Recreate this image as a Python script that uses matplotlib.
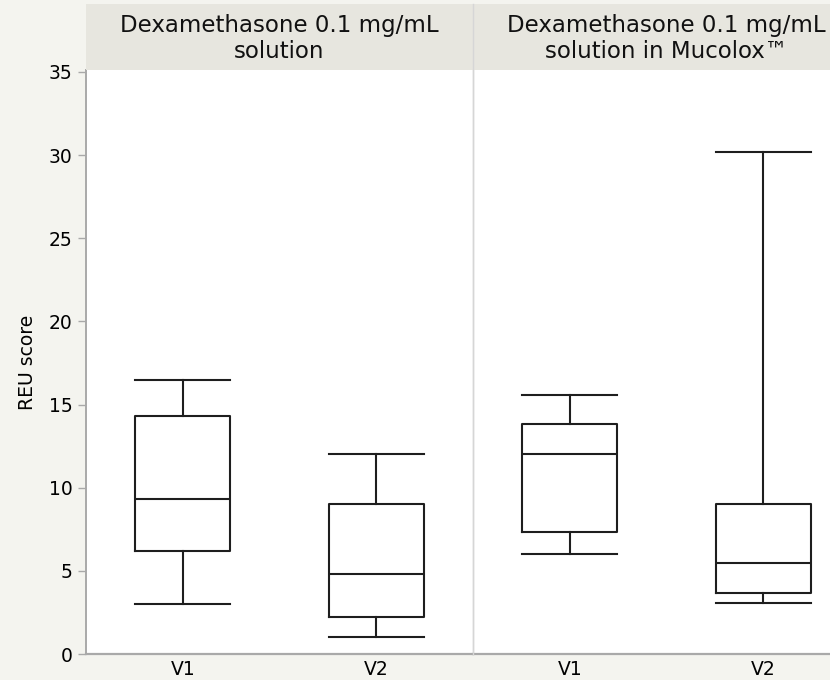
import numpy as np
import matplotlib
matplotlib.use("Agg")
import matplotlib.pyplot as plt
from matplotlib.lines import Line2D

plt.rcParams['font.family'] = ['DejaVu Sans']

# data
panel_titles = ["Dexamethasone 0.1 mg/mL\nsolution",
                "Dexamethasone 0.1 mg/mL\nsolution in Mucolox\u2122"]
visits = ["V1", "V2"]
whis_lo = [[3.0, 1.0], [6.0, 3.05]]
q1 = [[6.2, 2.25], [7.35, 3.65]]
median = [[9.3, 4.8], [12.05, 5.5]]
q3 = [[14.3, 9.0], [13.85, 9.0]]
whis_hi = [[16.5, 12.0], [15.55, 30.2]]
y_ticks = [0, 5, 10, 15, 20, 25, 30, 35]

W, H = 830, 680
fig = plt.figure(figsize=(W / 100, H / 100), dpi=100, facecolor="#f4f4ef")

ax_bottom = (H - 654) / H
ax_height = (654 - 70) / H
panel_w = 387 / W
lefts = [86 / W, 473 / W]

box_col = "#1e1e1e"
axis_gray = "#a9a9a9"

axes = []
for p in range(2):
    ax = fig.add_axes([lefts[p], ax_bottom, panel_w, ax_height])
    ax.set_facecolor("white")
    stats = []
    for i in range(2):
        stats.append(dict(label=visits[i], whislo=whis_lo[p][i], q1=q1[p][i],
                          med=median[p][i], q3=q3[p][i], whishi=whis_hi[p][i],
                          fliers=[]))
    lp = dict(color=box_col, linewidth=1.5)
    ax.bxp(stats, positions=[0.25, 0.75], widths=0.245, capwidths=0.245,
           showfliers=False, boxprops=lp, whiskerprops=lp, capprops=lp,
           medianprops=lp)
    ax.set_xlim(0, 1)
    ax.set_ylim(0, 35.12)
    ax.set_xticks([0.25, 0.75])
    ax.set_xticklabels(visits, fontsize=13.5)
    ax.tick_params(axis="x", length=0, pad=4)
    for s in ["top", "right"]:
        ax.spines[s].set_visible(False)
    ax.spines["bottom"].set_color(axis_gray)
    ax.spines["bottom"].set_linewidth(1.6)
    if p == 0:
        ax.set_yticks(y_ticks)
        ax.tick_params(axis="y", labelsize=13.5, length=6, color=axis_gray, width=1)
        ax.spines["left"].set_color(axis_gray)
        ax.spines["left"].set_linewidth(1.4)
        ax.set_ylabel("REU score", fontsize=13.5, labelpad=9)
    else:
        ax.set_yticks([])
        ax.spines["left"].set_color("#d6d6d6")
        ax.spines["left"].set_linewidth(1.0)
    axes.append(ax)

    # header strip
    hx = fig.add_axes([lefts[p], (H - 70) / H, panel_w, 66 / H])
    hx.set_facecolor("#e7e6df")
    hx.set_xticks([])
    hx.set_yticks([])
    for s in hx.spines.values():
        s.set_visible(False)
    hx.text(0.5, 0.48, panel_titles[p], ha="center", va="center",
            fontsize=16.5, linespacing=1.15, color="#111111",
            transform=hx.transAxes)

# separator line between the two panels, through the header
fig.add_artist(Line2D([473 / W, 473 / W], [ax_bottom, (H - 4) / H],
                      color="#d6d6d6", linewidth=1.0, transform=fig.transFigure))

fig.savefig("out.png", dpi=100, facecolor=fig.get_facecolor())
